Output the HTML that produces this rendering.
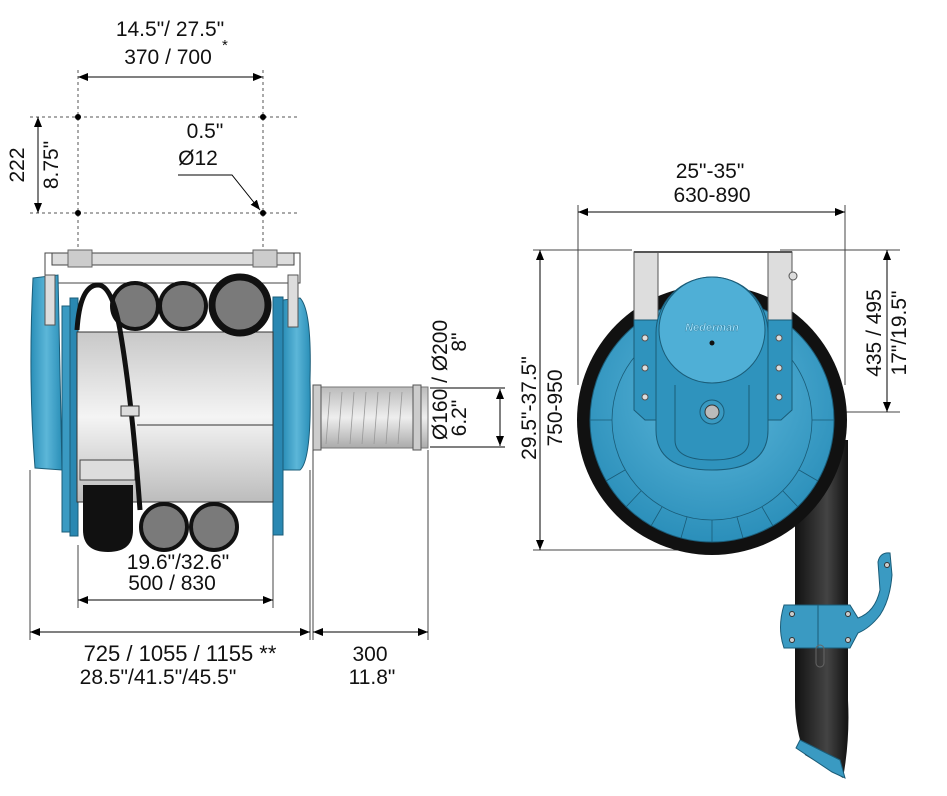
<!DOCTYPE html>
<html><head><meta charset="utf-8"><style>
html,body{margin:0;padding:0;background:#fff;}
svg{display:block;font-family:"Liberation Sans",Arial,sans-serif;}
</style></head><body>
<svg width="947" height="796" viewBox="0 0 947 796" xmlns="http://www.w3.org/2000/svg">
<defs>
<marker id="a" markerWidth="10" markerHeight="8" refX="10" refY="4" orient="auto" markerUnits="userSpaceOnUse"><path d="M0,0 L10,4 L0,8 Z" fill="#000"/></marker>
<marker id="b" markerWidth="10" markerHeight="8" refX="0" refY="4" orient="auto" markerUnits="userSpaceOnUse"><path d="M10,0 L0,4 L10,8 Z" fill="#000"/></marker>
<linearGradient id="drum" x1="0" y1="0" x2="0" y2="1"><stop offset="0" stop-color="#c8c8c8"/><stop offset="0.5" stop-color="#f4f4f4"/><stop offset="1" stop-color="#bcbcbc"/></linearGradient>
<linearGradient id="blue" x1="0" y1="0" x2="1" y2="0"><stop offset="0" stop-color="#2a8fb8"/><stop offset="0.5" stop-color="#5cb6d8"/><stop offset="1" stop-color="#2a8fb8"/></linearGradient>
<radialGradient id="wheel" cx="0.5" cy="0.4" r="0.6"><stop offset="0" stop-color="#5fb9dc"/><stop offset="1" stop-color="#2b8fba"/></radialGradient>
<linearGradient id="pipe" x1="0" y1="0" x2="1" y2="0"><stop offset="0" stop-color="#111"/><stop offset="0.6" stop-color="#444"/><stop offset="1" stop-color="#111"/></linearGradient>
<linearGradient id="flex" x1="0" y1="0" x2="0" y2="1"><stop offset="0" stop-color="#bbb"/><stop offset="0.5" stop-color="#eee"/><stop offset="1" stop-color="#aaa"/></linearGradient>
</defs>
<g font-size="21" fill="#111">
<text x="170" y="36" text-anchor="middle">14.5"/ 27.5"</text>
<text x="168" y="64" text-anchor="middle">370 / 700</text>
<text x="222" y="50" font-size="15">*</text>
<line x1="78" y1="77" x2="263" y2="77" stroke="#000" marker-start="url(#b)" marker-end="url(#a)"/>
<g stroke="#555" stroke-dasharray="3,3" stroke-width="1">
<line x1="78" y1="70" x2="78" y2="262"/><line x1="263" y1="70" x2="263" y2="262"/>
<line x1="30" y1="117" x2="300" y2="117"/><line x1="30" y1="213" x2="300" y2="213"/>
</g>
<g fill="#000"><circle cx="78" cy="117" r="3"/><circle cx="263" cy="117" r="3"/><circle cx="78" cy="213" r="3"/><circle cx="263" cy="213" r="3"/></g>
<line x1="38" y1="117" x2="38" y2="213" stroke="#000" marker-start="url(#b)" marker-end="url(#a)"/>
<text transform="translate(24,165) rotate(-90)" text-anchor="middle">222</text>
<text transform="translate(58,165) rotate(-90)" text-anchor="middle">8.75"</text>
<text x="205" y="138" text-anchor="middle">0.5"</text>
<text x="198" y="165" text-anchor="middle">Ø12</text>
<polyline points="178,175 232,175 260,210" fill="none" stroke="#000" marker-end="url(#a)"/>

<rect x="45" y="253" width="255" height="30" fill="#fff" stroke="#444"/>
<rect x="52" y="253" width="242" height="12" fill="#ddd" stroke="#444"/>
<rect x="68" y="250" width="24" height="17" fill="#ccc" stroke="#666"/>
<rect x="253" y="250" width="24" height="17" fill="#ccc" stroke="#666"/>
<path d="M33,278 L58,275 L62,470 L35,468 Q28,380 33,278 Z" fill="url(#blue)" stroke="#1a5c78"/>
<rect x="45" y="275" width="10" height="50" fill="#ddd" stroke="#555"/>
<rect x="62" y="306" width="12" height="226" fill="#3a9ac2" stroke="#1a5c78"/>
<rect x="70" y="298" width="8" height="238" fill="#2a88b2" stroke="#1a5c78"/>
<path d="M283,300 L300,298 Q312,310 310,380 Q312,460 300,470 L283,470 Z" fill="url(#blue)" stroke="#1a5c78"/>
<rect x="288" y="275" width="10" height="52" fill="#ddd" stroke="#555"/>
<rect x="273" y="297" width="10" height="238" fill="#2a88b2" stroke="#1a5c78"/>
<rect x="77" y="332" width="196" height="170" fill="url(#drum)" stroke="#333"/>
<line x1="137" y1="425" x2="273" y2="425" stroke="#333"/>
<circle cx="135" cy="306" r="23" fill="#7a7a7a" stroke="#111" stroke-width="4"/>
<circle cx="183" cy="306" r="23" fill="#7a7a7a" stroke="#111" stroke-width="4"/>
<circle cx="240" cy="305" r="28" fill="#7a7a7a" stroke="#111" stroke-width="7"/>
<circle cx="164" cy="527" r="23" fill="#7a7a7a" stroke="#111" stroke-width="4"/>
<circle cx="214" cy="527" r="23" fill="#7a7a7a" stroke="#111" stroke-width="4"/>
<rect x="80" y="460" width="55" height="20" fill="#ddd" stroke="#444"/>
<path d="M83,485 L133,485 L133,530 Q133,552 108,552 Q83,552 83,530 Z" fill="#111"/>
<path d="M77,330 Q80,285 98,285 Q112,285 120,330 Q132,400 140,510" fill="none" stroke="#111" stroke-width="5"/>
<rect x="121" y="406" width="18" height="10" fill="#ddd" stroke="#333"/>
<rect x="313" y="387" width="115" height="61" fill="url(#flex)" stroke="#777"/>
<g stroke="#999" stroke-width="0.8">
<line x1="330" y1="392" x2="326" y2="444"/><line x1="342" y1="392" x2="338" y2="444"/><line x1="354" y1="392" x2="350" y2="444"/><line x1="366" y1="392" x2="362" y2="444"/><line x1="378" y1="392" x2="374" y2="444"/><line x1="390" y1="392" x2="386" y2="444"/><line x1="402" y1="392" x2="398" y2="444"/></g>
<rect x="313" y="385" width="8" height="65" fill="#ccc" stroke="#555"/>
<rect x="413" y="385" width="8" height="65" fill="#ccc" stroke="#555"/>
<g stroke="#000"><line x1="430" y1="388" x2="505" y2="388"/><line x1="430" y1="447" x2="505" y2="447"/>
<line x1="500" y1="418" x2="500" y2="389" marker-end="url(#a)"/><line x1="500" y1="418" x2="500" y2="446" marker-end="url(#a)"/></g>
<text transform="translate(447,380) rotate(-90)" text-anchor="middle">Ø160 / Ø200</text>
<text transform="translate(466,418) rotate(-90)" text-anchor="middle">6.2"</text>
<text transform="translate(466,342) rotate(-90)" text-anchor="middle">8"</text>
<g stroke="#444"><line x1="30" y1="470" x2="30" y2="640"/><line x1="78" y1="545" x2="78" y2="608"/><line x1="273" y1="535" x2="273" y2="608"/><line x1="310" y1="470" x2="310" y2="640"/><line x1="313" y1="450" x2="313" y2="640"/><line x1="428" y1="450" x2="428" y2="640"/></g>
<text x="178" y="569" text-anchor="middle">19.6"/32.6"</text>
<text x="172" y="590" text-anchor="middle">500 / 830</text>
<line x1="78" y1="600" x2="273" y2="600" stroke="#000" marker-start="url(#b)" marker-end="url(#a)"/>
<line x1="30" y1="632" x2="310" y2="632" stroke="#000" marker-start="url(#b)" marker-end="url(#a)"/>
<line x1="313" y1="632" x2="428" y2="632" stroke="#000" marker-start="url(#b)" marker-end="url(#a)"/>
<text x="180" y="661" text-anchor="middle" font-size="22">725 / 1055 / 1155 **</text>
<text x="158" y="684" text-anchor="middle">28.5"/41.5"/45.5"</text>
<text x="370" y="661" text-anchor="middle">300</text>
<text x="372" y="684" text-anchor="middle">11.8"</text>

<text x="710" y="178" text-anchor="middle">25"-35"</text>
<text x="712" y="202" text-anchor="middle">630-890</text>
<g stroke="#444"><line x1="578" y1="205" x2="578" y2="385"/><line x1="845" y1="205" x2="845" y2="385"/>
<line x1="533" y1="250" x2="632" y2="250"/><line x1="780" y1="250" x2="900" y2="250"/><line x1="533" y1="550" x2="680" y2="550"/><line x1="712" y1="412" x2="900" y2="412"/></g>
<line x1="578" y1="212" x2="845" y2="212" stroke="#000" marker-start="url(#b)" marker-end="url(#a)"/>
<line x1="540" y1="250" x2="540" y2="550" stroke="#000" marker-start="url(#b)" marker-end="url(#a)"/>
<line x1="887" y1="250" x2="887" y2="412" stroke="#000" marker-start="url(#b)" marker-end="url(#a)"/>
<text transform="translate(536,408) rotate(-90)" text-anchor="middle">29.5"-37.5"</text>
<text transform="translate(562,408) rotate(-90)" text-anchor="middle">750-950</text>
<text transform="translate(881,333) rotate(-90)" text-anchor="middle">435 / 495</text>
<text transform="translate(906,333) rotate(-90)" text-anchor="middle">17"/19.5"</text>
<path d="M795,440 L848,440 L848,700 Q850,740 843,778 L805,755 Q795,730 795,700 Z" fill="url(#pipe)"/>
<path d="M800,740 L840,760 L845,778 L832,772 L796,748 Z" fill="#3a9ac2" stroke="#1a5c78"/>
<circle cx="712" cy="420" r="135" fill="#111"/>
<circle cx="712" cy="420" r="122" fill="url(#wheel)" stroke="#1a5c78"/>
<circle cx="712" cy="420" r="100" fill="none" stroke="#1a5c78" stroke-width="0.8"/>
<g stroke="#1a5c78" stroke-width="0.8">
<line x1="712" y1="520" x2="712" y2="542"/><line x1="662" y1="507" x2="651" y2="526"/><line x1="762" y1="507" x2="773" y2="526"/><line x1="625" y1="470" x2="606" y2="481"/><line x1="799" y1="470" x2="818" y2="481"/><line x1="612" y1="420" x2="590" y2="420"/><line x1="812" y1="420" x2="834" y2="420"/><line x1="687" y1="517" x2="681" y2="538"/><line x1="737" y1="517" x2="743" y2="538"/><line x1="641" y1="491" x2="626" y2="507"/><line x1="783" y1="491" x2="798" y2="507"/></g>
<rect x="634" y="252" width="24" height="80" fill="#ddd" stroke="#555"/>
<rect x="768" y="252" width="24" height="80" fill="#ddd" stroke="#555"/>
<line x1="634" y1="252" x2="792" y2="252" stroke="#555" stroke-width="2"/>
<circle cx="793" cy="276" r="4" fill="#ddd" stroke="#555"/>
<path d="M634,320 L658,320 L658,420 L645,420 L634,410 Z" fill="#2f93bd" stroke="#1a5c78"/>
<path d="M768,320 L792,320 L792,410 L781,420 L768,420 Z" fill="#2f93bd" stroke="#1a5c78"/>
<g fill="#ddd" stroke="#555"><circle cx="645" cy="338" r="3"/><circle cx="645" cy="368" r="3"/><circle cx="645" cy="397" r="3"/><circle cx="779" cy="338" r="3"/><circle cx="779" cy="368" r="3"/><circle cx="779" cy="397" r="3"/></g>
<path d="M656,333 A56,56 0 0 1 768,333 L768,430 Q768,470 712,470 Q656,470 656,430 Z" fill="#2f93bd" stroke="#1a5c78"/>
<circle cx="712" cy="330" r="53" fill="#4fafd6" stroke="#1a5c78"/>
<path d="M675,385 L675,440 Q675,460 712,460 Q749,460 749,440 L749,385" fill="none" stroke="#1a5c78"/>
<text x="712" y="331" text-anchor="middle" font-size="11" font-style="italic" font-weight="bold" fill="#9fe3ff" stroke="#1a5c78" stroke-width="0.3">Nederman</text>
<circle cx="712" cy="343" r="2.5" fill="#111"/>
<circle cx="712" cy="412" r="12" fill="#3a9ac2" stroke="#1a5c78"/>
<circle cx="712" cy="412" r="7" fill="#bbb" stroke="#333"/>
<path d="M784,605 L850,605 L858,618 Q875,612 880,590 L878,562 Q880,552 890,553 L892,575 Q890,600 880,615 Q870,628 858,633 L850,648 L784,648 Q777,628 784,605 Z" fill="#3a9ac2" stroke="#1a5c78"/>
<line x1="818" y1="605" x2="818" y2="648" stroke="#1a5c78"/>
<g fill="#ccc" stroke="#333"><circle cx="792" cy="614" r="2.5"/><circle cx="848" cy="614" r="2.5"/><circle cx="792" cy="640" r="2.5"/><circle cx="848" cy="640" r="2.5"/><circle cx="887" cy="565" r="2.5"/></g>
<rect x="816" y="645" width="8" height="22" rx="4" fill="none" stroke="#666"/>
</g>
</svg>
</body></html>
